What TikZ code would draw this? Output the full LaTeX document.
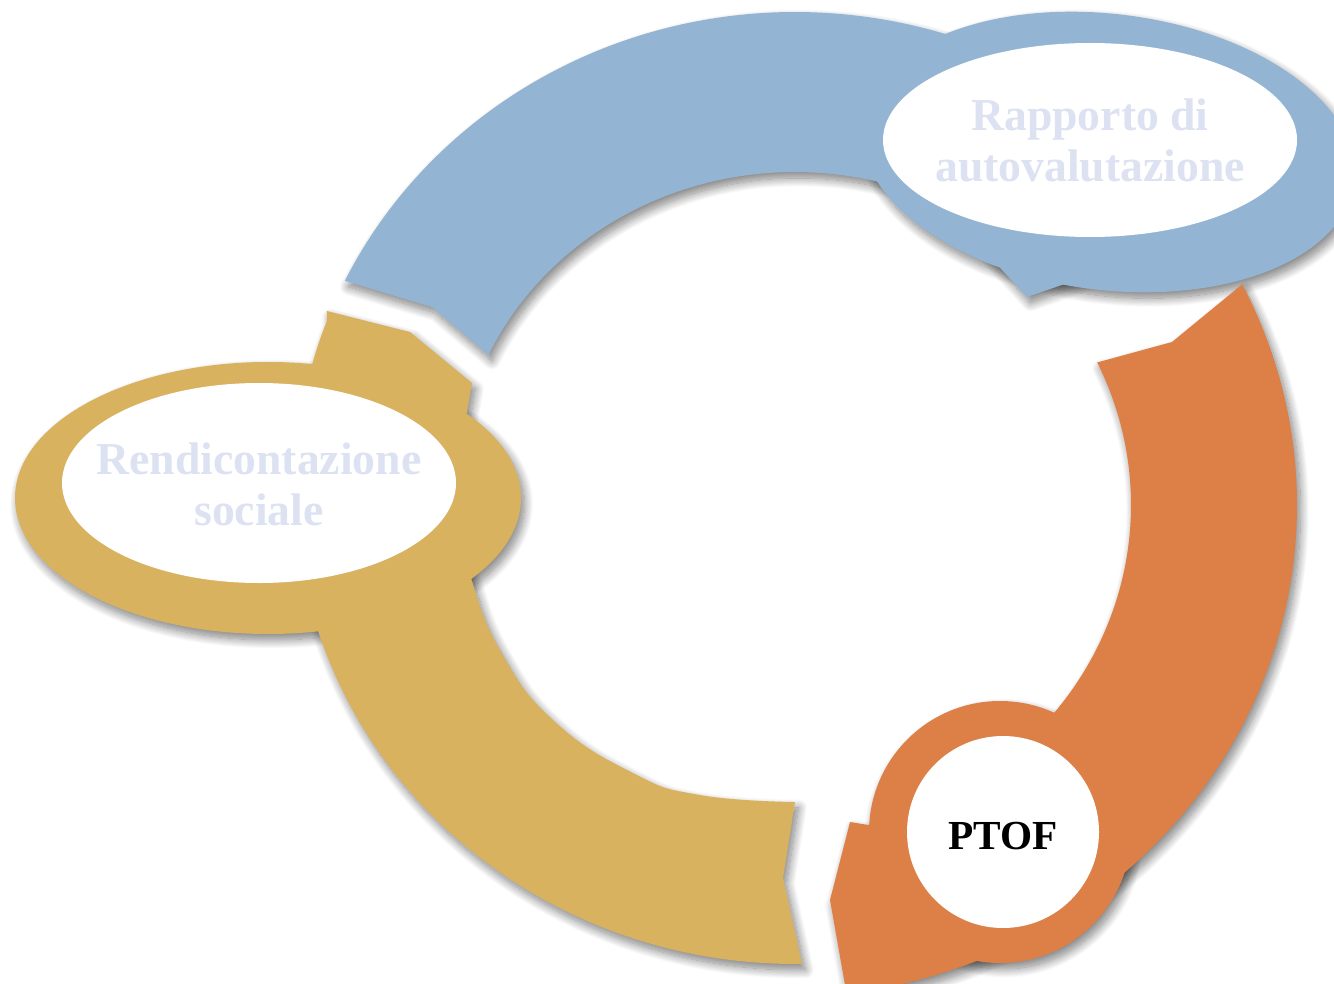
\documentclass[tikz,border=0pt]{standalone}
\usepackage{fontspec}
\setmainfont{Liberation Serif}
\usetikzlibrary{calc,shadows.blur}
\definecolor{cblue}{RGB}{148,180,211}
\definecolor{corange}{RGB}{221,128,71}
\definecolor{cgold}{RGB}{216,178,94}
\definecolor{clav}{RGB}{220,226,241}
\def\bluearrow{($(795,488)+(205.8:500 and 476)$) arc[start angle=205.8,end angle=318,x radius=500,y radius=476] -- (1189,150) -- (1140,258) -- (1027,297) -- ($(795,488)+(295.4:338 and 316)$) arc[start angle=295.4,end angle=204.9,x radius=338,y radius=316] -- (432,307) -- cycle}
\def\orangearrow{($(780,505)+(333.4:517 and 493)$) arc[start angle=333.4,end angle=442.6,x radius=517,y radius=493] -- (830,900) -- (850,822) -- ($(780,505)+(434.5:351 and 333)$) arc[start angle=434.5,end angle=334.65,x radius=351,y radius=333] -- (1172,342) -- cycle}
\def\goldarrow{($(795,488)+(89.2:500 and 476)$) arc[start angle=89.2,end angle=200.5,x radius=500,y radius=476] -- (327,311) -- (410,332) -- (472,383) -- (467,412) -- plot[smooth,tension=0.8] coordinates {(467,412) (458,470) (460,530) (470,575) (500,650) (553,720) (633,773) (700,795) (795,802)} -- (783,878) -- cycle}
\begin{document}
\begin{tikzpicture}[x=0.02cm,y=-0.02cm,
  shad/.style={blur shadow={shadow xshift=2pt,shadow yshift=-3.4pt,shadow blur radius=5pt,shadow blur steps=16,shadow opacity=50}},
  lbl/.style={inner sep=0pt,align=center,text=clav,font=\fontsize{26}{29}\selectfont\bfseries}]
\useasboundingbox (0,0) rectangle (1334,983);
% shadows
\path[shad] \bluearrow;
\path[shad] \orangearrow;
\path[shad] \goldarrow;
\path[shad] (268,498) ellipse [x radius=253,y radius=136];
\path[shad,shift={(1108,152)},rotate=-7] (0,0) ellipse [x radius=248,y radius=138];
\path[shad] (1000,832) circle [radius=131];
% coloured shapes
\fill[cblue] \bluearrow;
\fill[corange] \orangearrow;
\fill[cgold] \goldarrow;
\fill[cgold] (268,498) ellipse [x radius=253,y radius=136];
\fill[cblue,shift={(1108,152)},rotate=-7] (0,0) ellipse [x radius=248,y radius=138];
\fill[corange] (1000,832) circle [radius=131];
% white centres
\fill[white] (1090,140) ellipse [x radius=207,y radius=97];
\fill[white] (259,483) ellipse [x radius=197,y radius=100];
\fill[white] (1003,832) circle [radius=96];
% labels
\node[lbl] (rav) at (1090,140) {Rapporto di\\autovalutazione};
\node[lbl] (rs) at (259,484) {Rendicontazione\\sociale};
\node[inner sep=0pt,font=\fontsize{23.5}{28}\selectfont\bfseries] (ptof) at (1003,836) {PTOF};
\end{tikzpicture}
\end{document}
